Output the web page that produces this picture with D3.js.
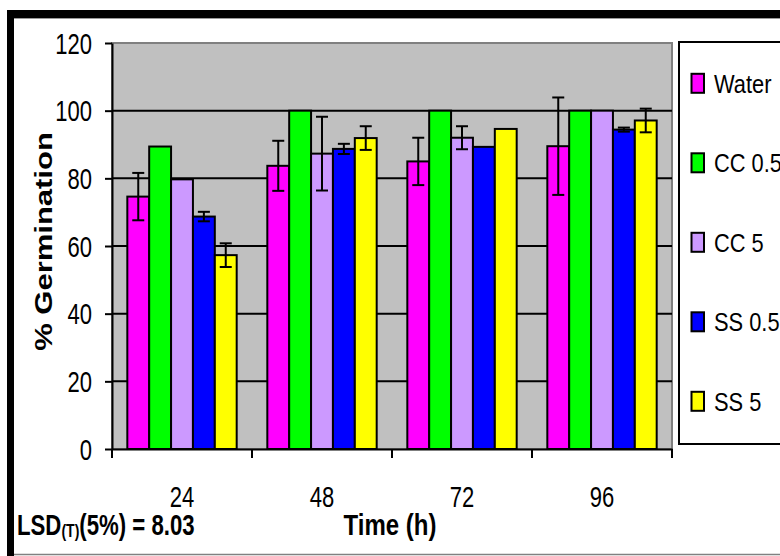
<!DOCTYPE html>
<html><head><meta charset="utf-8">
<script src="https://cdn.jsdelivr.net/npm/d3@7"></script>
<style>
body{margin:0;background:#fff}
svg{display:block}
text{font-family:"Liberation Sans",Arial,sans-serif;fill:#000}
</style>
</head><body>
<svg id="chart" width="780" height="556"></svg>
<script>
// Germination (%) over time for each seed treatment
const times = ["24", "48", "72", "96"];
const treatments = ["Water", "CC 0.5", "CC 5", "SS 0.5", "SS 5"];
const colors = ["#FF00FF", "#00FF00", "#CC99FF", "#0000FF", "#FFFF00"];

const water = [74.6, 83.7, 85.0, 89.5];
const cc05  = [89.4, 100, 100, 100];
const cc5   = [79.7, 87.3, 92.0, 100];
const ss05  = [68.7, 88.7, 89.3, 94.4];
const ss5   = [57.3, 91.9, 94.6, 97.1];

// standard errors (0 = no bar drawn)
const waterErr = [7.0, 7.4, 7.0, 14.4];
const cc05Err  = [0, 0, 0, 0];
const cc5Err   = [0, 10.9, 3.4, 0];
const ss05Err  = [1.4, 1.5, 0, 0.6];
const ss5Err   = [3.5, 3.5, 0, 3.5];

const yTicks = [0, 20, 40, 60, 80, 100, 120];
const yTitle = "% Germination";
const xTitle = "Time (h)";

const series = [water, cc05, cc5, ss05, ss5];
const errors = [waterErr, cc05Err, cc5Err, ss05Err, ss5Err];

const rows = [];
times.forEach((t, ti) => treatments.forEach((s, si) => {
  rows.push({time: t, trt: s, idx: si, value: series[si][ti], err: errors[si][ti]});
}));

const svg = d3.select("#chart");

// chart frame
svg.append("rect").attr("x", 7).attr("y", 10).attr("width", 780).attr("height", 8).attr("fill", "#000");
svg.append("rect").attr("x", 7).attr("y", 10).attr("width", 7).attr("height", 546).attr("fill", "#000");
svg.append("line").attr("x1", 14).attr("x2", 780).attr("y1", 18.5).attr("y2", 18.5)
  .attr("stroke", "#9a9a9a").attr("stroke-width", 1);
svg.append("line").attr("x1", 14).attr("x2", 780).attr("y1", 554.5).attr("y2", 554.5)
  .attr("stroke", "#808080").attr("stroke-width", 1.5);

const plot = {left: 112, right: 672, top: 43, bottom: 449};

const y = d3.scaleLinear().domain([0, 120]).range([plot.bottom, plot.top]);
const x0 = d3.scaleBand().domain(times).range([plot.left, plot.right]).padding(0);
const x1 = d3.scaleBand().domain(treatments).range([0, x0.bandwidth()])
  .paddingInner(0).paddingOuter(0.7);
const color = d3.scaleOrdinal().domain(treatments).range(colors);

// plot background
svg.append("rect")
  .attr("x", plot.left).attr("y", plot.top)
  .attr("width", plot.right - plot.left).attr("height", plot.bottom - plot.top)
  .attr("fill", "#C0C0C0").attr("stroke", "#808080").attr("stroke-width", 2);

// gridlines
svg.append("g").selectAll("line")
  .data(yTicks.filter(d => d > 0 && d < 120))
  .join("line")
  .attr("x1", plot.left).attr("x2", plot.right)
  .attr("y1", d => y(d)).attr("y2", d => y(d))
  .attr("stroke", "#000").attr("stroke-width", 2);

// bars
svg.append("g").selectAll("rect")
  .data(rows)
  .join("rect")
  .attr("x", d => x0(d.time) + x1(d.trt))
  .attr("y", d => y(d.value))
  .attr("width", x1.bandwidth())
  .attr("height", d => y(0) - y(d.value))
  .attr("fill", d => color(d.trt))
  .attr("stroke", "#000").attr("stroke-width", 2);

// error bars
const eb = svg.append("g").selectAll("g")
  .data(rows.filter(d => d.err > 0))
  .join("g")
  .attr("transform", d => `translate(${x0(d.time) + x1(d.trt) + x1.bandwidth() / 2},0)`);
eb.append("line")
  .attr("y1", d => y(d.value - d.err)).attr("y2", d => y(d.value + d.err))
  .attr("stroke", "#000").attr("stroke-width", 2);
eb.selectAll("line.cap")
  .data(d => [d.value - d.err, d.value + d.err])
  .join("line").attr("class", "cap")
  .attr("x1", -6).attr("x2", 6)
  .attr("y1", v => y(v)).attr("y2", v => y(v))
  .attr("stroke", "#000").attr("stroke-width", 2);

// y axis
const yAxis = svg.append("g")
  .attr("transform", `translate(${plot.left},0)`)
  .call(d3.axisLeft(y).tickValues(yTicks).tickSize(7).tickSizeOuter(0));
yAxis.select(".domain").attr("stroke", "#000").attr("stroke-width", 2);
yAxis.selectAll(".tick line").attr("stroke", "#000").attr("stroke-width", 2);
yAxis.selectAll(".tick text")
  .attr("x", 0).attr("dy", "0.35em")
  .attr("transform", "translate(-20,0) scale(0.76,1)")
  .style("font-size", "29px").attr("text-anchor", "end");

// x axis: labels centred on groups, ticks on group boundaries
const xAxis = svg.append("g")
  .attr("transform", `translate(0,${plot.bottom})`)
  .call(d3.axisBottom(x0).tickSize(0).tickSizeOuter(0));
xAxis.select(".domain").attr("stroke", "#000").attr("stroke-width", 2);
xAxis.selectAll(".tick text")
  .attr("y", 0).attr("dy", 0)
  .attr("transform", "translate(0,58) scale(0.76,1)")
  .style("font-size", "29px");
xAxis.selectAll(".tick").each(function(d) {
  const cx = x0(d) + x0.bandwidth() / 2;
  d3.select(this).select("text").attr("transform", `translate(0,58) scale(0.76,1)`);
});
const bounds = times.map(t => x0(t)).concat([x0.range()[1]]);
svg.append("g").selectAll("line")
  .data(bounds)
  .join("line")
  .attr("x1", d => d).attr("x2", d => d)
  .attr("y1", plot.bottom).attr("y2", plot.bottom + 9)
  .attr("stroke", "#000").attr("stroke-width", 2);

// axis titles
svg.append("text")
  .attr("transform", "translate(52,241.5) scale(0.8,1) rotate(-90)")
  .attr("text-anchor", "middle")
  .style("font-size", "31px").style("font-weight", "bold")
  .text(yTitle);

svg.append("text")
  .attr("transform", "translate(390,535) scale(0.8,1)")
  .attr("text-anchor", "middle")
  .style("font-size", "30px").style("font-weight", "bold")
  .text(xTitle);

// least significant difference note
const lsd = svg.append("text")
  .attr("transform", "translate(17,535) scale(0.74,1)")
  .style("font-size", "30px").style("font-weight", "bold");
lsd.append("tspan").text("LSD");
lsd.append("tspan").attr("dy", 2).style("font-size", "19px").text("(T)");
lsd.append("tspan").attr("dy", -2).text("(5%) = 8.03");

// legend
const legend = svg.append("g");
legend.append("rect")
  .attr("x", 679).attr("y", 42).attr("width", 140).attr("height", 402)
  .attr("fill", "#fff").attr("stroke", "#000").attr("stroke-width", 2);
const items = legend.selectAll("g.item")
  .data(treatments)
  .join("g").attr("class", "item")
  .attr("transform", (d, i) => `translate(0,${83.3 + i * 79.5})`);
items.append("rect")
  .attr("x", 691.5).attr("y", -9.5).attr("width", 12.5).attr("height", 19)
  .attr("fill", d => color(d)).attr("stroke", "#000").attr("stroke-width", 2);
items.append("text")
  .attr("transform", "translate(714,9.3) scale(0.84,1)")
  .style("font-size", "26px")
  .text(d => d);
</script>
</body></html>
